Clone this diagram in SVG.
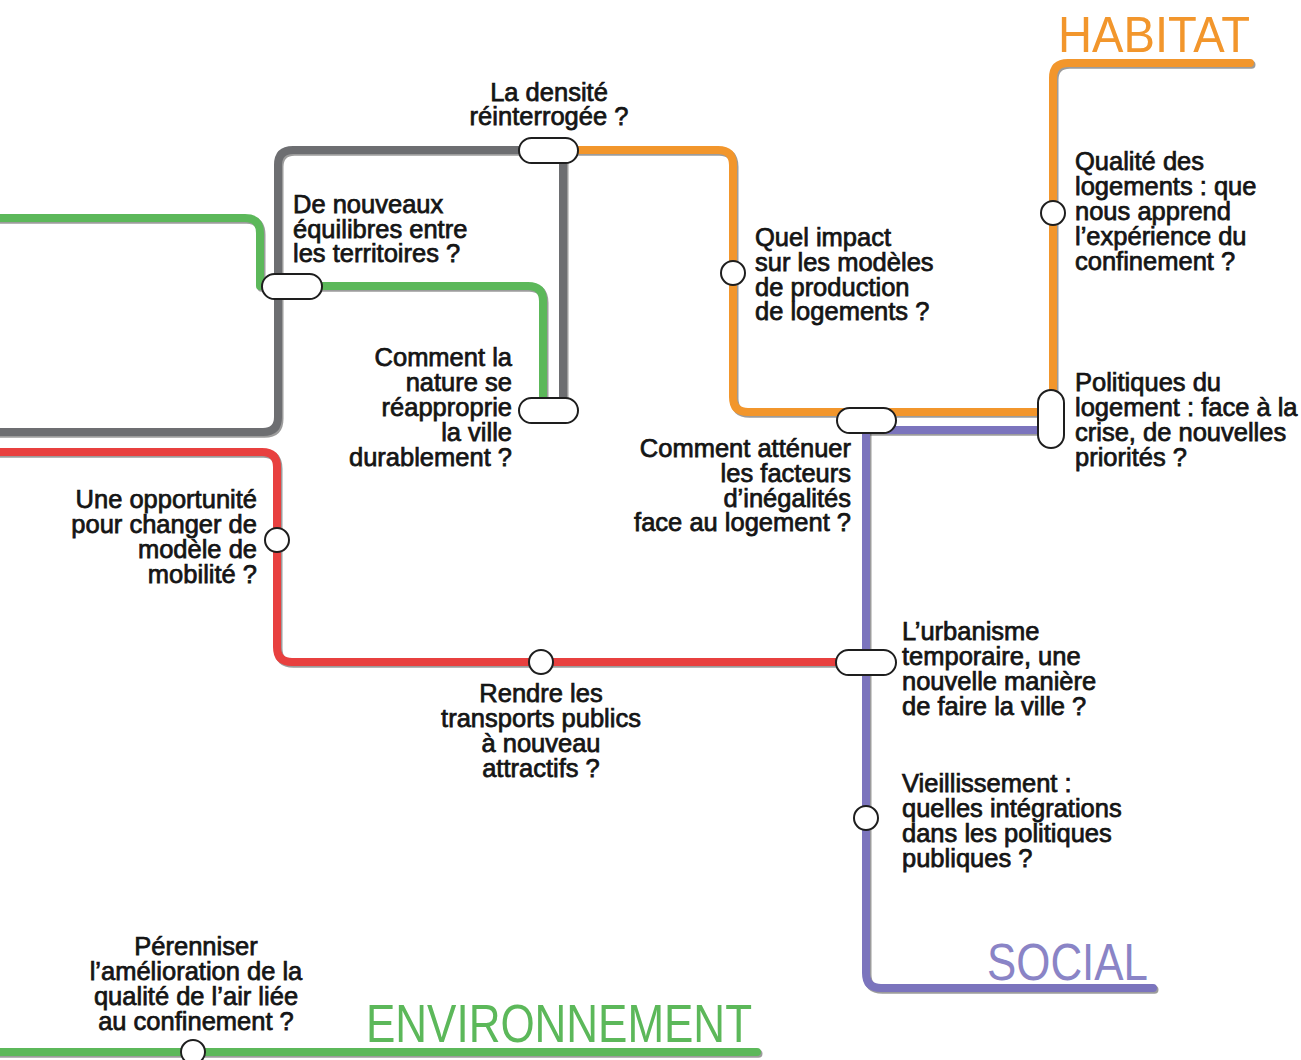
<svg xmlns="http://www.w3.org/2000/svg" xmlns:xlink="http://www.w3.org/1999/xlink" width="1301" height="1060" viewBox="0 0 1301 1060">
  <style>
    .line { fill: none; stroke-width: 8; stroke-linecap: round; stroke-linejoin: round; }
    .shadow { fill: none; stroke: #4a4a4a; stroke-opacity: 0.55; stroke-width: 8; stroke-linecap: round; stroke-linejoin: round; }
    .gray { stroke: #6d6e71; }
    .green { stroke: #5cb85a; }
    .orange { stroke: #f2962c; }
    .red { stroke: #e8403f; }
    .purple { stroke: #7b74bd; }
    .stop { fill: #ffffff; stroke: #1e1e1e; stroke-width: 2; }
    .lbl { font-family: "Liberation Sans", Arial, sans-serif; font-size: 25.5px; fill: #151515; stroke: #151515; stroke-width: 0.75; }
    .mid { text-anchor: middle; }
    .end { text-anchor: end; }
    .title { font-family: "Liberation Sans", Arial, sans-serif; font-weight: normal; }
  </style>
  <defs>
    <path id="p-green-top" d="M-10,218 H245 Q260,218 260,233 V286 H528 Q543,286 543,301 V410"/>
    <path id="p-gray" d="M-10,432 H263 Q278,432 278,417 V165 Q278,150 293,150 H548"/>
    <path id="p-gray-v" d="M563,150 V410"/>
    <path id="p-orange" d="M548,150 H718 Q733,150 733,165 V397 Q733,412 748,412 H1053 V78 Q1053,63 1068,63 H1250"/>
    <path id="p-purple-h" d="M866,430 H1051"/>
    <path id="p-purple" d="M866,420 V973 Q866,988 881,988 H1153"/>
    <path id="p-red" d="M-10,452 H262 Q277,452 277,467 V647 Q277,662 292,662 H866"/>
    <path id="p-green-bottom" d="M-10,1052 H757"/>
  </defs>

  <rect width="1301" height="1060" fill="#ffffff"/>

  <!-- metro lines -->
  <g id="connectors">
    <g transform="translate(1.5,1.8)">
      <use xlink:href="#p-green-top" class="shadow"/>
      <use xlink:href="#p-gray" class="shadow"/>
      <use xlink:href="#p-gray-v" class="shadow"/>
      <use xlink:href="#p-orange" class="shadow"/>
      <use xlink:href="#p-purple-h" class="shadow"/>
      <use xlink:href="#p-purple" class="shadow"/>
      <use xlink:href="#p-red" class="shadow"/>
      <use xlink:href="#p-green-bottom" class="shadow"/>
    </g>
    <use xlink:href="#p-green-top" class="line green"/>
    <use xlink:href="#p-gray" class="line gray"/>
    <use xlink:href="#p-gray-v" class="line gray"/>
    <use xlink:href="#p-orange" class="line orange"/>
    <use xlink:href="#p-purple-h" class="line purple"/>
    <use xlink:href="#p-purple" class="line purple"/>
    <use xlink:href="#p-red" class="line red"/>
    <use xlink:href="#p-green-bottom" class="line green"/>
  </g>

  <!-- line titles -->
  <g id="title-habitat">
    <text class="title" x="1058" y="52" font-size="50" fill="#f2962c" textLength="192" lengthAdjust="spacingAndGlyphs">HABITAT</text>
  </g>
  <g id="title-social">
    <text class="title" x="987" y="980" font-size="52" fill="#8a84c6" textLength="161" lengthAdjust="spacingAndGlyphs">SOCIAL</text>
  </g>
  <g id="title-environnement">
    <text class="title" x="366" y="1042" font-size="53" fill="#5cb85a" textLength="386" lengthAdjust="spacingAndGlyphs">ENVIRONNEMENT</text>
  </g>

  <!-- stations -->
  <g id="densite">
    <rect class="stop" x="519" y="138" width="59" height="25" rx="12.5"/>
    <text class="lbl mid" x="549" y="101">La densité</text>
    <text class="lbl mid" x="549" y="125">réinterrogée ?</text>
  </g>
  <g id="equilibres">
    <rect class="stop" x="262" y="274" width="60" height="25" rx="12.5"/>
    <text class="lbl" x="293" y="213">De nouveaux</text>
    <text class="lbl" x="293" y="238">équilibres entre</text>
    <text class="lbl" x="293" y="262">les territoires ?</text>
  </g>
  <g id="nature">
    <rect class="stop" x="519" y="398" width="59" height="25" rx="12.5"/>
    <text class="lbl end" x="512" y="366">Comment la</text>
    <text class="lbl end" x="512" y="391">nature se</text>
    <text class="lbl end" x="512" y="416">réapproprie</text>
    <text class="lbl end" x="512" y="441">la ville</text>
    <text class="lbl end" x="512" y="466">durablement ?</text>
  </g>
  <g id="production">
    <circle class="stop" cx="733" cy="273" r="12"/>
    <text class="lbl" x="755" y="246">Quel impact</text>
    <text class="lbl" x="755" y="271">sur les modèles</text>
    <text class="lbl" x="755" y="296">de production</text>
    <text class="lbl" x="755" y="320">de logements ?</text>
  </g>
  <g id="qualite">
    <circle class="stop" cx="1053" cy="213" r="12"/>
    <text class="lbl" x="1075" y="170">Qualité des</text>
    <text class="lbl" x="1075" y="195">logements : que</text>
    <text class="lbl" x="1075" y="220">nous apprend</text>
    <text class="lbl" x="1075" y="245">l’expérience du</text>
    <text class="lbl" x="1075" y="270">confinement ?</text>
  </g>
  <g id="politiques">
    <rect class="stop" x="1038" y="390" width="26" height="58" rx="13"/>
    <text class="lbl" x="1075" y="391">Politiques du</text>
    <text class="lbl" x="1075" y="416">logement : face à la</text>
    <text class="lbl" x="1075" y="441">crise, de nouvelles</text>
    <text class="lbl" x="1075" y="466">priorités ?</text>
  </g>
  <g id="inegalites">
    <rect class="stop" x="837" y="408" width="59" height="25" rx="12.5"/>
    <text class="lbl end" x="851" y="457">Comment atténuer</text>
    <text class="lbl end" x="851" y="482">les facteurs</text>
    <text class="lbl end" x="851" y="507">d’inégalités</text>
    <text class="lbl end" x="851" y="531">face au logement ?</text>
  </g>
  <g id="mobilite">
    <circle class="stop" cx="277" cy="540" r="12"/>
    <text class="lbl end" x="257" y="508">Une opportunité</text>
    <text class="lbl end" x="257" y="533">pour changer de</text>
    <text class="lbl end" x="257" y="558">modèle de</text>
    <text class="lbl end" x="257" y="583">mobilité ?</text>
  </g>
  <g id="transports">
    <circle class="stop" cx="541" cy="662" r="12"/>
    <text class="lbl mid" x="541" y="702">Rendre les</text>
    <text class="lbl mid" x="541" y="727">transports publics</text>
    <text class="lbl mid" x="541" y="752">à nouveau</text>
    <text class="lbl mid" x="541" y="777">attractifs ?</text>
  </g>
  <g id="urbanisme">
    <rect class="stop" x="836" y="650" width="60" height="25" rx="12.5"/>
    <text class="lbl" x="902" y="640">L’urbanisme</text>
    <text class="lbl" x="902" y="665">temporaire, une</text>
    <text class="lbl" x="902" y="690">nouvelle manière</text>
    <text class="lbl" x="902" y="715">de faire la ville ?</text>
  </g>
  <g id="vieillissement">
    <circle class="stop" cx="866" cy="818" r="12"/>
    <text class="lbl" x="902" y="792">Vieillissement :</text>
    <text class="lbl" x="902" y="817">quelles intégrations</text>
    <text class="lbl" x="902" y="842">dans les politiques</text>
    <text class="lbl" x="902" y="867">publiques ?</text>
  </g>
  <g id="air">
    <circle class="stop" cx="193" cy="1052" r="12"/>
    <text class="lbl mid" x="196" y="955">Pérenniser</text>
    <text class="lbl mid" x="196" y="980">l’amélioration de la</text>
    <text class="lbl mid" x="196" y="1005">qualité de l’air liée</text>
    <text class="lbl mid" x="196" y="1030">au confinement ?</text>
  </g>
</svg>
